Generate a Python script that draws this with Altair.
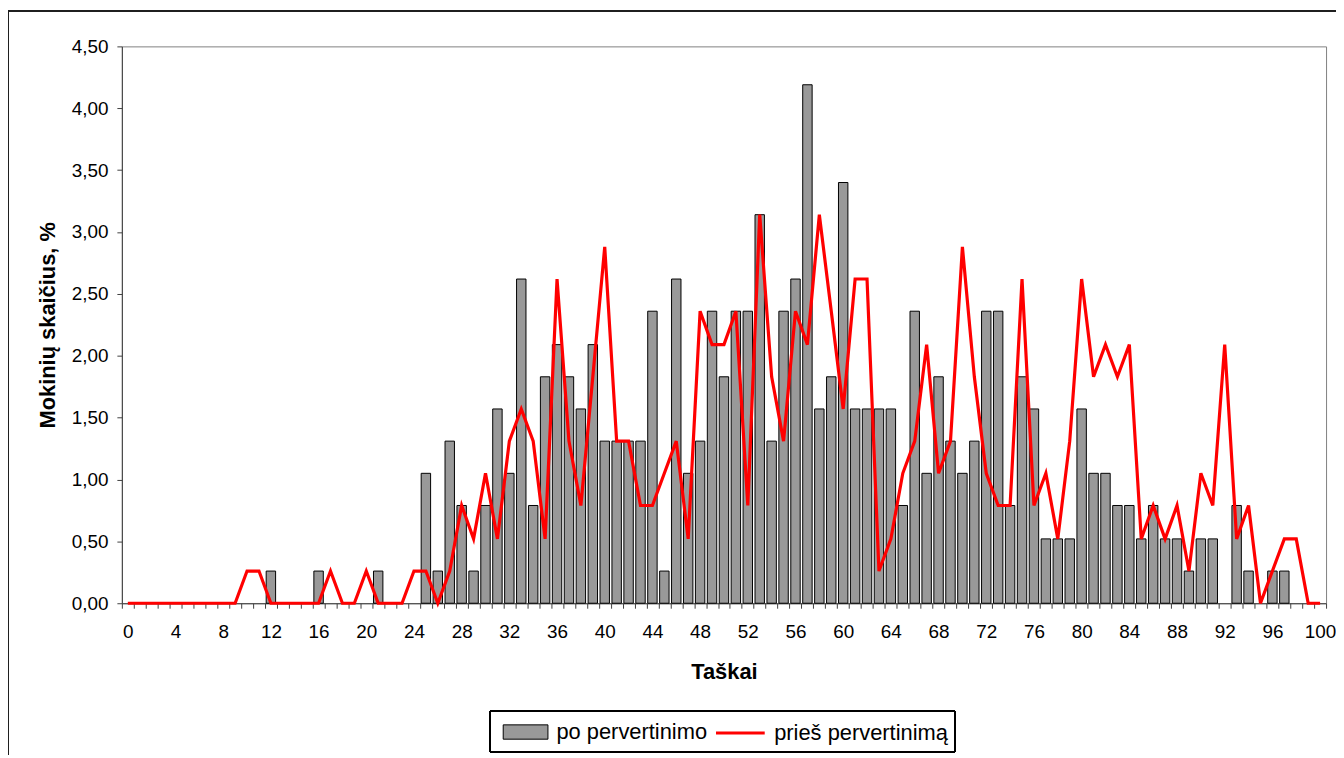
import altair as alt
import pandas as pd

# Categories (points 0..100)
taskai = list(range(101))

# Bars: "po pervertinimo" (% of students)
po_pervertinimo = [
    0, 0, 0, 0, 0, 0, 0, 0, 0, 0,
    0, 0, 0.26, 0, 0, 0, 0.26, 0, 0, 0,
    0, 0.26, 0, 0, 0, 1.05, 0.26, 1.31, 0.79, 0.26,
    0.79, 1.57, 1.05, 2.62, 0.79, 1.83, 2.09, 1.83, 1.57, 2.09,
    1.31, 1.31, 1.31, 1.31, 2.36, 0.26, 2.62, 1.05, 1.31, 2.36,
    1.83, 2.36, 2.36, 3.14, 1.31, 2.36, 2.62, 4.19, 1.57, 1.83,
    3.40, 1.57, 1.57, 1.57, 1.57, 0.79, 2.36, 1.05, 1.83, 1.31,
    1.05, 1.31, 2.36, 2.36, 0.79, 1.83, 1.57, 0.52, 0.52, 0.52,
    1.57, 1.05, 1.05, 0.79, 0.79, 0.52, 0.79, 0.52, 0.52, 0.26,
    0.52, 0.52, 0, 0.79, 0.26, 0, 0.26, 0.26, 0, 0,
    0,
]

# Line: "prieš pervertinimą" (% of students)
pries_pervertinima = [
    0, 0, 0, 0, 0, 0, 0, 0, 0, 0,
    0.26, 0.26, 0, 0, 0, 0, 0, 0.26, 0, 0,
    0.26, 0, 0, 0, 0.26, 0.26, 0, 0.26, 0.79, 0.52,
    1.05, 0.52, 1.31, 1.57, 1.31, 0.52, 2.62, 1.31, 0.79, 1.83,
    2.88, 1.31, 1.31, 0.79, 0.79, 1.05, 1.31, 0.52, 2.36, 2.09,
    2.09, 2.36, 0.79, 3.14, 1.83, 1.31, 2.36, 2.09, 3.14, 2.36,
    1.57, 2.62, 2.62, 0.26, 0.52, 1.05, 1.31, 2.09, 1.05, 1.31,
    2.88, 1.83, 1.05, 0.79, 0.79, 2.62, 0.79, 1.05, 0.52, 1.31,
    2.62, 1.83, 2.09, 1.83, 2.09, 0.52, 0.79, 0.52, 0.79, 0.26,
    1.05, 0.79, 2.09, 0.52, 0.79, 0, 0.26, 0.52, 0.52, 0,
    0,
]

series_names = ["po pervertinimo", "prieš pervertinimą"]
y_ticks = [0, 0.5, 1, 1.5, 2, 2.5, 3, 3.5, 4, 4.5]

bars_df = pd.DataFrame({"x": taskai, "v": po_pervertinimo, "s": series_names[0]})
line_df = pd.DataFrame({"x": taskai, "v": pries_pervertinima, "s": series_names[1]})

FONT = "Liberation Sans"
AXIS_COL = "#404040"

legend_common = dict(
    title=None,
    orient="none",
    direction="horizontal",
    padding=0,
    labelFont=FONT,
    labelFontSize=22,
    labelColor="#000000",
    labelLimit=400,
    labelOffset=8,
)

fill_enc = alt.Fill(
    "s:N",
    scale=alt.Scale(domain=[series_names[0]], range=["#999999"]),
    legend=alt.Legend(
        legendX=383,
        legendY=666.5,
        symbolType="M-1,-0.32H1V0.32H-1Z",
        symbolSize=2025,
        symbolStrokeColor="#000000",
        symbolStrokeWidth=1,
        symbolFillColor="#999999",
        symbolOpacity=1,
        **legend_common,
    ),
)

stroke_enc = alt.Stroke(
    "s:N",
    scale=alt.Scale(domain=[series_names[1]], range=["#ff0000"]),
    legend=alt.Legend(
        legendX=596,
        legendY=664.5,
        symbolType="stroke",
        symbolSize=2400,
        symbolStrokeWidth=3,
        symbolOpacity=1,
        **legend_common,
    ),
)

x_enc = alt.X(
    "x:O",
    scale=alt.Scale(domain=taskai, paddingInner=0, paddingOuter=0),
    axis=alt.Axis(
        title="Taškai",
        labelAngle=0,
        labelExpr="datum.value % 4 === 0 ? datum.label : ''",
        labelOverlap=False,
        tickBand="extent",
        tickSize=5,
        labelPadding=14,
        titlePadding=21,
    ),
)

y_enc = alt.Y(
    "v:Q",
    scale=alt.Scale(domain=[0, 4.5], nice=False),
    axis=alt.Axis(
        title="Mokinių skaičius, %",
        values=y_ticks,
        labelExpr="replace(format(datum.value, '.2f'), '.', ',')",
        tickSize=5,
        labelPadding=9,
        titlePadding=12,
        grid=False,
    ),
)

bars = alt.Chart(bars_df).mark_bar(
    width=alt.RelativeBandSize(0.79), stroke="#000000", strokeWidth=1, opacity=1
).encode(x=x_enc, y=y_enc, fill=fill_enc).transform_filter("datum.v > 0")

line = alt.Chart(line_df).mark_line(strokeWidth=3.2, interpolate="linear").encode(
    x=x_enc, y=y_enc, stroke=stroke_enc
)

frame_top = alt.Chart(bars_df).mark_rule(color="#202020", strokeWidth=1).encode(
    x=alt.value(-114), x2=alt.value(1230), y=alt.value(-35.5)
)
frame_left = alt.Chart(bars_df).mark_rule(color="#202020", strokeWidth=1).encode(
    x=alt.value(-114), y=alt.value(-35.5), y2=alt.value(720)
)
legend_box = alt.Chart(bars_df).mark_rect(
    filled=False, stroke="#000000", strokeWidth=1
).encode(
    x=alt.value(370.5), x2=alt.value(837.5), y=alt.value(668.5), y2=alt.value(709.5)
)

chart = (
    alt.layer(bars, line, frame_top, frame_left, legend_box)
    .resolve_scale(fill="independent", stroke="independent")
    .properties(
        width=1211,
        height=560,
        autosize=alt.AutoSizeParams(type="none"),
        padding={"left": 114.5, "top": 36.5, "right": 10, "bottom": 150},
    )
    .configure_view(stroke="#808080", strokeWidth=1)
    .configure_axis(
        labelFont=FONT,
        labelFontSize=19,
        labelColor="#000000",
        titleFont=FONT,
        titleFontSize=22,
        titleFontWeight="bold",
        titleColor="#000000",
        domainColor=AXIS_COL,
        tickColor=AXIS_COL,
        domainWidth=1,
        tickWidth=1,
    )
)

chart.save("out.html", embed_options={"renderer": "svg", "actions": False})
